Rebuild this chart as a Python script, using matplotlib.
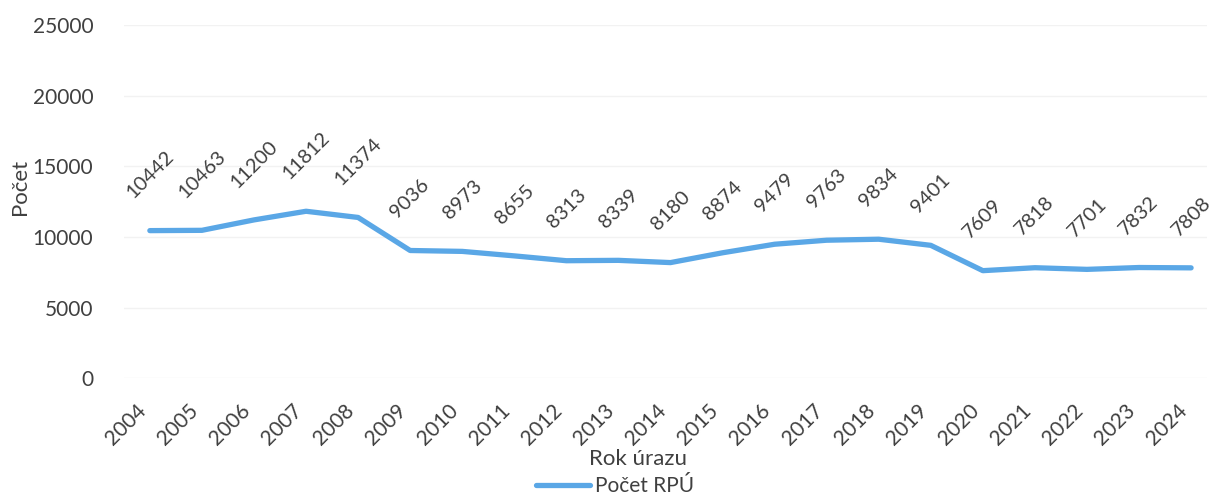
import matplotlib.pyplot as plt

plt.rcParams['font.family'] = ['Lato', 'DejaVu Sans']

# Data
years = [str(y) for y in range(2004, 2025)]
counts = [10442, 10463, 11200, 11812, 11374, 9036, 8973, 8655, 8313, 8339,
          8180, 8874, 9479, 9763, 9834, 9401, 7609, 7818, 7701, 7832, 7808]

text_color = '#404040'
line_color = '#5aa7e6'

fig = plt.figure(figsize=(12.14, 4.97), dpi=100)
ax = fig.add_axes([0.102, 0.239, 0.892, 0.711])

x = list(range(len(years)))
ax.plot(x, counts, color=line_color, linewidth=3.8, solid_capstyle='round',
        solid_joinstyle='round', label='Počet RPÚ', zorder=3)

# popisky hodnot
for xi, v in zip(x, counts):
    ax.annotate(str(v), (xi, v), xytext=(0, 21), textcoords='offset points',
                ha='center', va='bottom', rotation=45, fontsize=14.5,
                color=text_color)

ax.set_xlim(-0.5, 20.3)
ax.set_ylim(0, 25000)
ax.set_yticks(range(0, 25001, 5000))
ax.set_xticks(x)
ax.set_xticklabels(years, rotation=45, ha='right', fontsize=15, color=text_color)
ax.tick_params(axis='y', labelsize=15, labelcolor=text_color, length=0, pad=22)
ax.tick_params(axis='x', length=0, pad=16)

ax.grid(axis='y', color='#f2f2f2', linewidth=1)
ax.set_axisbelow(True)
for s in ax.spines.values():
    s.set_visible(False)

ax.set_xlabel('Rok úrazu', fontsize=16, color=text_color)
ax.xaxis.set_label_coords(0.475, -0.2)
ax.set_ylabel('Počet', fontsize=16, color=text_color)
ax.yaxis.set_label_coords(-0.087, 0.54)

fig.legend(loc='center', bbox_to_anchor=(615 / 1214, 11 / 497), frameon=False,
           fontsize=15, labelcolor=text_color, handlelength=2.6, handletextpad=0.2)

fig.savefig('out.png', dpi=100)
